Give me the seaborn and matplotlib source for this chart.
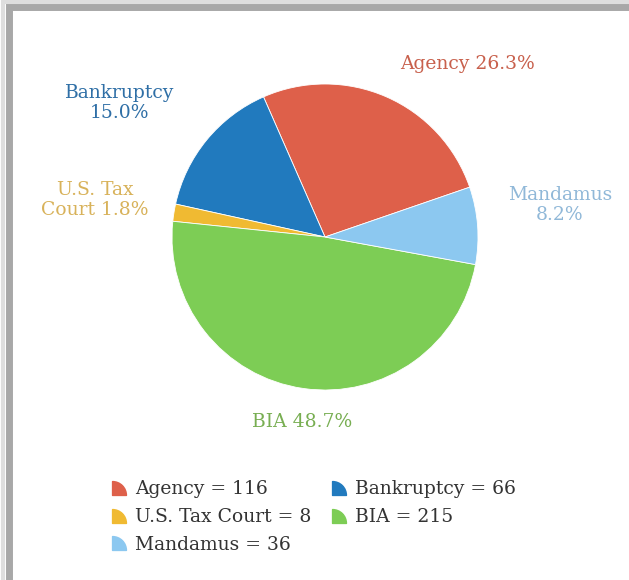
import matplotlib
matplotlib.use("Agg")
import matplotlib.pyplot as plt
import seaborn as sns
from matplotlib.path import Path
from matplotlib.lines import Line2D
from matplotlib.patches import Rectangle

sns.set_theme(style="white")
plt.rcParams['font.family'] = ['DejaVu Serif']

categories = ["Agency", "Bankruptcy", "U.S. Tax Court", "BIA", "Mandamus"]
counts = [116, 66, 8, 215, 36]
colors = ["#DE604A", "#217ABE", "#F0BA32", "#7DCD55", "#8CC8F0"]
label_colors = ["#C8604C", "#2F6FA6", "#D8B25A", "#78AE52", "#90B8D8"]
slice_labels = ["Agency 26.3%", "Bankruptcy\n15.0%", "U.S. Tax\nCourt 1.8%", "BIA 48.7%", "Mandamus\n8.2%"]
label_pos = [(467, 64), (120, 103), (95, 200), (302, 422), (560, 205)]

W, H = 629, 580
fig = plt.figure(figsize=(W / 100, H / 100), dpi=100)
ax = fig.add_axes([0, 0, 1, 1])

cx, cy, r = 325, 237, 153
ax.pie(counts, colors=colors, startangle=19, counterclock=True,
       center=(cx, H - cy), radius=r,
       wedgeprops=dict(edgecolor="white", linewidth=0.6))
ax.set_xlim(0, W)
ax.set_ylim(0, H)
ax.set_aspect("equal")
ax.axis("off")

for txt, (x, y), c in zip(slice_labels, label_pos, label_colors):
    ax.text(x, H - y, txt, ha="center", va="center", fontsize=13.5,
            color=c, linespacing=1.2)

# legend with quarter-wedge markers (centred)
w = Path.wedge(0, 90)
wedge = Path(w.vertices - 0.5, w.codes)
order = [0, 2, 4, 1, 3]
handles = [Line2D([], [], marker=wedge, linestyle="none", markersize=10,
                  markerfacecolor=colors[i], markeredgecolor=colors[i])
           for i in order]
labels = [f"{categories[i]} = {counts[i]}" for i in order]
fig.legend(handles, labels, ncol=2, loc="upper left",
           bbox_to_anchor=(104 / W, 1 - 473 / H), frameon=False,
           fontsize=13.5, handlelength=0.8, handletextpad=0.45,
           columnspacing=1.1, labelspacing=0.52, borderaxespad=0,
           labelcolor="#333333")

# frame border with shadow
fig.patches.append(Rectangle((3, -30), W + 40, H - 1.5 + 30, transform=None,
                             fill=False, edgecolor="#dedede", linewidth=3))
fig.patches.append(Rectangle((8.5, -30), W + 40, H - 6.5 + 30, transform=None,
                             fill=False, edgecolor="#a8a8a8", linewidth=5))

fig.savefig("out.png", dpi=100)
